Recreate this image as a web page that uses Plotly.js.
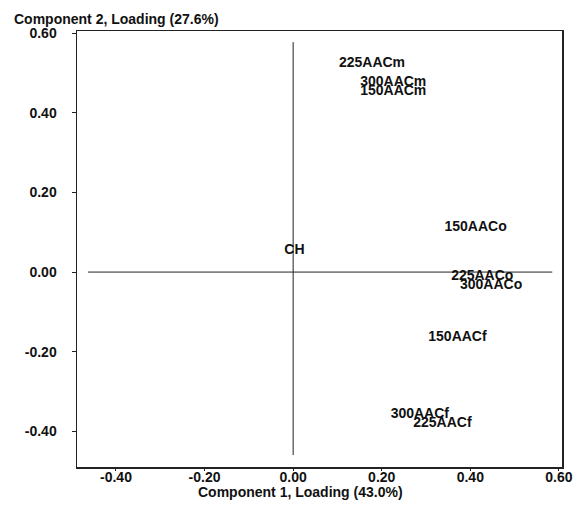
<!DOCTYPE html>
<html>
<head>
<meta charset="utf-8">
<script src="https://cdn.plot.ly/plotly-3.0.1.min.js"></script>
<style>
  html, body { margin: 0; padding: 0; background: #fff; }
  #chart { width: 575px; height: 507px; }
</style>
</head>
<body>
<div id="chart"></div>
<script>
// Loading labels and their component scores
const labels = ['225AACm', '300AACm', '150AACm', '150AACo', 'CH', '225AACo', '300AACo', '150AACf', '300AACf', '225AACf'];
const comp1 = [0.178, 0.226, 0.226, 0.412, 0.003, 0.427, 0.447, 0.371, 0.286, 0.337];
const comp2 = [0.525, 0.476, 0.453, 0.112, 0.054, -0.010, -0.033, -0.164, -0.359, -0.380];

// Reference cross through the origin
const crossHX = [-0.463, 0.585];
const crossHY = [0, 0];
const crossVX = [0, 0];
const crossVY = [0.578, -0.46];

// Axis ticks
const xTicks = [-0.4, -0.2, 0, 0.2, 0.4, 0.6];
const xTickText = ['-0.40', '-0.20', '0.00', '0.20', '0.40', '0.60'];
const yTicks = [-0.4, -0.2, 0, 0.2, 0.4, 0.6];
const yTickText = ['-0.40', '-0.20', '0.00', '0.20', '0.40', '0.60'];

const FONT = 'Liberation Sans, Arial, Helvetica, sans-serif';
const INK = '#111';

const traces = [
  { x: crossHX, y: crossHY, mode: 'lines', line: { color: '#222', width: 1 }, hoverinfo: 'skip' },
  { x: crossVX, y: crossVY, mode: 'lines', line: { color: '#222', width: 1 }, hoverinfo: 'skip' },
  {
    x: comp1, y: comp2, text: labels, mode: 'text', textposition: 'middle center',
    textfont: { family: FONT, size: 14, color: INK, weight: 'bold' }
  }
];

const axisCommon = {
  showgrid: false, zeroline: false, showline: true, mirror: true,
  linecolor: '#222', linewidth: 1.5,
  ticks: 'outside', ticklen: 4, tickwidth: 1, tickcolor: '#222',
  tickfont: { family: FONT, size: 14, color: INK, weight: 'bold' }
};

const layout = {
  width: 575, height: 507,
  margin: { l: 77, r: 13, t: 31, b: 40 },
  paper_bgcolor: '#fff', plot_bgcolor: '#fff',
  showlegend: false,
  xaxis: Object.assign({}, axisCommon, {
    range: [-0.488, 0.607], tickmode: 'array', tickvals: xTicks, ticktext: xTickText,
    ticklen: 2, ticklabelstandoff: -5
  }),
  yaxis: Object.assign({}, axisCommon, {
    range: [-0.49, 0.606], tickmode: 'array', tickvals: yTicks, ticktext: yTickText,
    ticklabelstandoff: 12
  }),
  annotations: [
    {
      text: 'Component 2, Loading (27.6%)', xref: 'paper', yref: 'paper',
      x: -0.135, y: 1.0, xanchor: 'left', yanchor: 'middle', yshift: 12, showarrow: false,
      font: { family: FONT, size: 14, color: INK, weight: 'bold' }
    },
    {
      text: 'Component 1, Loading (43.0%)', xref: 'paper', yref: 'paper',
      x: 0.46, y: 0, xanchor: 'center', yanchor: 'middle', yshift: -25, showarrow: false,
      font: { family: FONT, size: 14, color: INK, weight: 'bold' }
    }
  ]
};

Plotly.newPlot('chart', traces, layout, { displayModeBar: false, staticPlot: true });
</script>
</body>
</html>
